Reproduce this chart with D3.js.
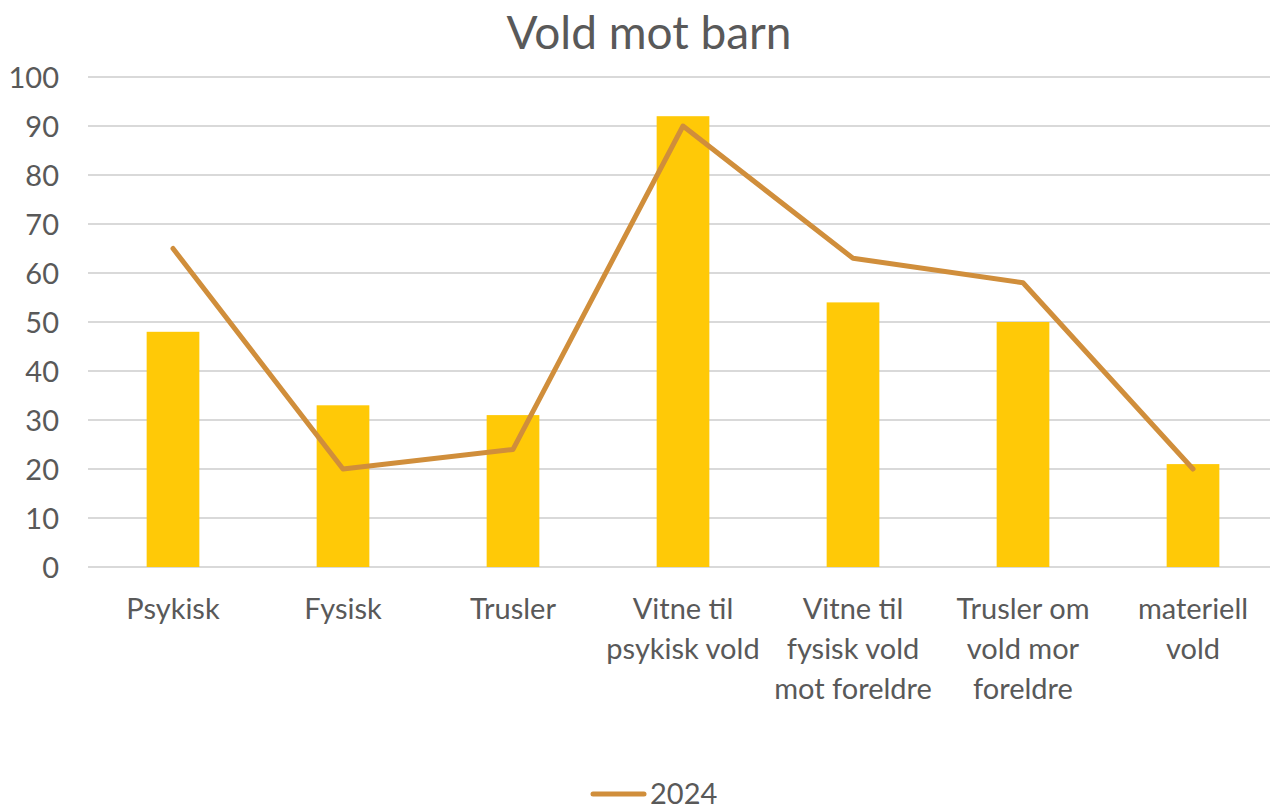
<!DOCTYPE html>
<html>
<head>
    <style>
        body {
            margin: 0;
            padding: 0;
            background: #fff;
            font-family: Lato, "Open Sans", sans-serif;
        }
        .grid line { stroke: #d9d9d9; stroke-width: 2; }
        .lbl { fill: #595959; }
    </style>
    <script src="https://d3js.org/d3.v7.min.js"></script>
</head>
<body>
<div id="chart"></div>
<script>
    // data
    var categories = [
        ["Psykisk"],
        ["Fysisk"],
        ["Trusler"],
        ["Vitne til", "psykisk vold"],
        ["Vitne til", "fysisk vold", "mot foreldre"],
        ["Trusler om", "vold mor", "foreldre"],
        ["materiell", "vold"]
    ];
    var barValues = [48, 33, 31, 92, 54, 50, 21];
    var lineValues = [65, 20, 24, 90, 63, 58, 20];
    var yTicks = [0, 10, 20, 30, 40, 50, 60, 70, 80, 90, 100];
    var seriesName = "2024";

    var W = 1270, H = 805;
    var plotL = 88, plotR = 1278, plotT = 77, plotB = 567;

    var svg = d3.select("#chart").append("svg")
        .attr("width", W)
        .attr("height", H);

    var x = d3.scaleBand()
        .domain(d3.range(categories.length))
        .range([plotL, plotR])
        .paddingInner(0.69)
        .paddingOuter(0.345);

    var xc = d3.scaleBand()
        .domain(d3.range(categories.length))
        .range([plotL, plotR]);

    var y = d3.scaleLinear().domain([0, 100]).range([plotB, plotT]);

    // title
    svg.append("text")
        .attr("class", "lbl")
        .attr("x", 649)
        .attr("y", 49)
        .attr("text-anchor", "middle")
        .style("font-size", "46px")
        .text("Vold mot barn");

    // grid
    svg.append("g").attr("class", "grid")
        .selectAll("line")
        .data(yTicks)
        .enter().append("line")
        .attr("x1", plotL)
        .attr("x2", plotR)
        .attr("y1", function(d) { return y(d); })
        .attr("y2", function(d) { return y(d); });

    // y labels
    var yAxis = svg.append("g")
        .attr("transform", "translate(" + plotL + ",0)")
        .call(d3.axisLeft(y).tickValues(yTicks).tickSize(0).tickPadding(29));
    yAxis.select(".domain").remove();
    yAxis.selectAll("text")
        .attr("class", "lbl")
        .style("font-family", "Lato, 'Open Sans', sans-serif")
        .style("font-size", "29px")
        .attr("dy", "0.36em");

    // bars
    svg.selectAll(".bar")
        .data(barValues)
        .enter().append("rect")
        .attr("class", "bar")
        .attr("x", function(d, i) { return x(i); })
        .attr("y", function(d) { return y(d); })
        .attr("width", x.bandwidth())
        .attr("height", function(d) { return plotB - y(d); })
        .attr("fill", "#ffc907");

    // line
    var line = d3.line()
        .x(function(d, i) { return xc(i) + xc.bandwidth() / 2; })
        .y(function(d) { return y(d); });

    svg.append("path")
        .datum(lineValues)
        .attr("d", line)
        .attr("fill", "none")
        .attr("stroke", "#d08e3b")
        .attr("stroke-width", 5)
        .attr("stroke-linecap", "round")
        .attr("stroke-linejoin", "round");

    // category labels
    var cat = svg.append("g").selectAll("text")
        .data(categories)
        .enter().append("text")
        .attr("class", "lbl")
        .attr("text-anchor", "middle")
        .style("font-size", "29px")
        .attr("x", function(d, i) { return xc(i) + xc.bandwidth() / 2; })
        .attr("y", 619);
    cat.selectAll("tspan")
        .data(function(d) { return d; })
        .enter().append("tspan")
        .attr("x", function() { return d3.select(this.parentNode).attr("x"); })
        .attr("dy", function(d, i) { return i === 0 ? 0 : 40; })
        .text(function(d) { return d; });

    // legend
    svg.append("line")
        .attr("x1", 593).attr("x2", 644)
        .attr("y1", 794).attr("y2", 794)
        .attr("stroke", "#d08e3b")
        .attr("stroke-width", 5)
        .attr("stroke-linecap", "round");
    svg.append("text")
        .attr("class", "lbl")
        .attr("x", 650)
        .attr("y", 804)
        .style("font-size", "29px")
        .text(seriesName);
</script>
</body>
</html>
